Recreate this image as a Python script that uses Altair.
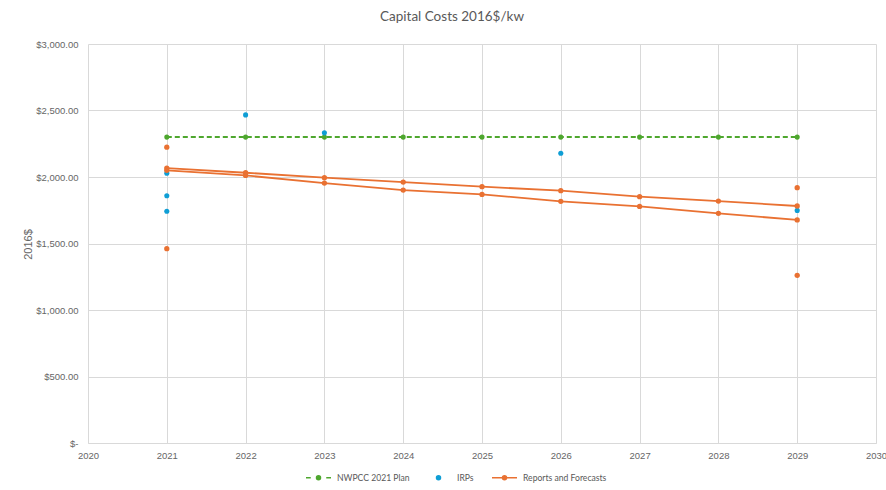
import altair as alt
import pandas as pd

# ---- values -------------------------------------------------------------
years = [2021, 2022, 2023, 2024, 2025, 2026, 2027, 2028, 2029]
nwpcc_plan = [2300, 2300, 2300, 2300, 2300, 2300, 2300, 2300, 2300]
forecast_high = [2067, 2032, 1995, 1962, 1927, 1897, 1852, 1819, 1782]
forecast_low = [2050, 2012, 1954, 1902, 1869, 1817, 1779, 1727, 1677]
report_years = [2021, 2021, 2029, 2029]
report_values = [2224, 1461, 1920, 1261]
irp_years = [2021, 2021, 2021, 2022, 2023, 2026, 2029]
irp_values = [2029, 1859, 1742, 2467, 2332, 2179, 1749]

series_names = ["NWPCC 2021 Plan", "IRPs", "Reports and Forecasts"]
series_colors = ["#4EA72E", "#0F9ED5", "#E97132"]
x_ticks = [2020, 2021, 2022, 2023, 2024, 2025, 2026, 2027, 2028, 2029, 2030]
y_ticks = [0, 500, 1000, 1500, 2000, 2500, 3000]

GREEN, BLUE, ORANGE = series_colors
TEXT = "#595959"
LABEL = "#666666"
GRID = "#d9d9d9"
AXIS_FONT = "Liberation Sans Narrow, Liberation Sans, sans-serif"

# ---- tables -------------------------------------------------------------
plan_df = pd.DataFrame({"year": years, "cost": nwpcc_plan})
forecast_df = pd.DataFrame({
    "year": years + years,
    "cost": forecast_high + forecast_low,
    "track": ["high"] * len(years) + ["low"] * len(years),
})
reports_df = pd.DataFrame({"year": report_years, "cost": report_values})
irp_df = pd.DataFrame({"year": irp_years, "cost": irp_values})
legend_df = pd.DataFrame({"series": series_names})

x_enc = alt.X(
    "year:Q",
    title=None,
    scale=alt.Scale(domain=[2020, 2030], nice=False, zero=False),
    axis=alt.Axis(
        values=x_ticks, format="d", labelFlush=False, ticks=False,
        domain=True, domainColor=GRID, gridColor=GRID,
        labelPadding=7, labelFont=AXIS_FONT, labelFontSize=9.5, labelColor=LABEL,
    ),
)
y_enc = alt.Y(
    "cost:Q",
    scale=alt.Scale(domain=[0, 3000], nice=False),
    axis=alt.Axis(
        values=y_ticks, title="2016$", ticks=False, domain=False,
        gridColor=GRID, labelPadding=10,
        labelExpr="datum.value == 0 ? '$-' : format(datum.value, '$,.2f')",
        labelFont=AXIS_FONT, labelFontSize=9.5, labelColor=LABEL,
        titleFont=AXIS_FONT, titleFontSize=11, titleColor=LABEL,
        titleFontWeight="normal", titleX=-60, titleY=200,
        titleAngle=-90, titleAlign="center", titleBaseline="middle",
    ),
)

plan_line = alt.Chart(plan_df).mark_line(
    color=GREEN, strokeWidth=2, strokeDash=[5, 3]
).encode(x=x_enc, y=y_enc)
plan_pts = alt.Chart(plan_df).mark_point(
    filled=True, color=GREEN, size=26, opacity=1
).encode(x=x_enc, y=y_enc)

irp_pts = alt.Chart(irp_df).mark_point(
    filled=True, color=BLUE, size=26, opacity=1
).encode(x=x_enc, y=y_enc)

forecast_lines = alt.Chart(forecast_df).mark_line(
    color=ORANGE, strokeWidth=1.8
).encode(x=x_enc, y=y_enc, detail="track:N")
forecast_pts = alt.Chart(forecast_df).mark_point(
    filled=True, color=ORANGE, size=28, opacity=1
).encode(x=x_enc, y=y_enc)
report_pts = alt.Chart(reports_df).mark_point(
    filled=True, color=ORANGE, size=28, opacity=1
).encode(x=x_enc, y=y_enc)

# Legend-only layer: symbol paths combine a line sample with a dot.
dot = "M-0.16,0A0.16,0.16 0 1,1 0.16,0A0.16,0.16 0 1,1 -0.16,0Z"
legend_shapes = [
    "M-1,0L-0.62,0M0.62,0L1,0" + dot,
    dot,
    "M-1,0L1,0" + dot,
]
legend_layer = alt.Chart(legend_df).transform_filter("false").mark_point(
    filled=True, opacity=1, strokeWidth=1.8
).encode(
    fill=alt.Fill("series:N", scale=alt.Scale(domain=series_names, range=series_colors),
                  legend=alt.Legend(title=None)),
    stroke=alt.Stroke("series:N", scale=alt.Scale(domain=series_names, range=series_colors),
                      legend=alt.Legend(title=None)),
    shape=alt.Shape("series:N", scale=alt.Scale(domain=series_names, range=legend_shapes),
                    legend=alt.Legend(title=None)),
)

chart = alt.layer(
    plan_line, plan_pts, irp_pts, forecast_lines, forecast_pts, report_pts, legend_layer
).properties(
    width=788,
    height=399,
    autosize=alt.AutoSizeParams(type="none"),
    padding={"left": 88, "top": 44, "right": 10, "bottom": 47},
    title=alt.TitleParams(
        "Capital Costs 2016$/kw", anchor="middle", dx=-30, offset=16,
        font="Lato", fontSize=13.5, fontWeight="normal", color=TEXT,
    ),
).configure_view(
    stroke=None
).configure_legend(
    orient="none", legendX=217, legendY=420, direction="horizontal",
    symbolSize=625, labelOffset=5, columnPadding=15,
    labelFont="Lato", labelFontSize=8.6, labelColor=TEXT,
)

chart.save("out.html", embed_options={"renderer": "svg", "actions": False})
